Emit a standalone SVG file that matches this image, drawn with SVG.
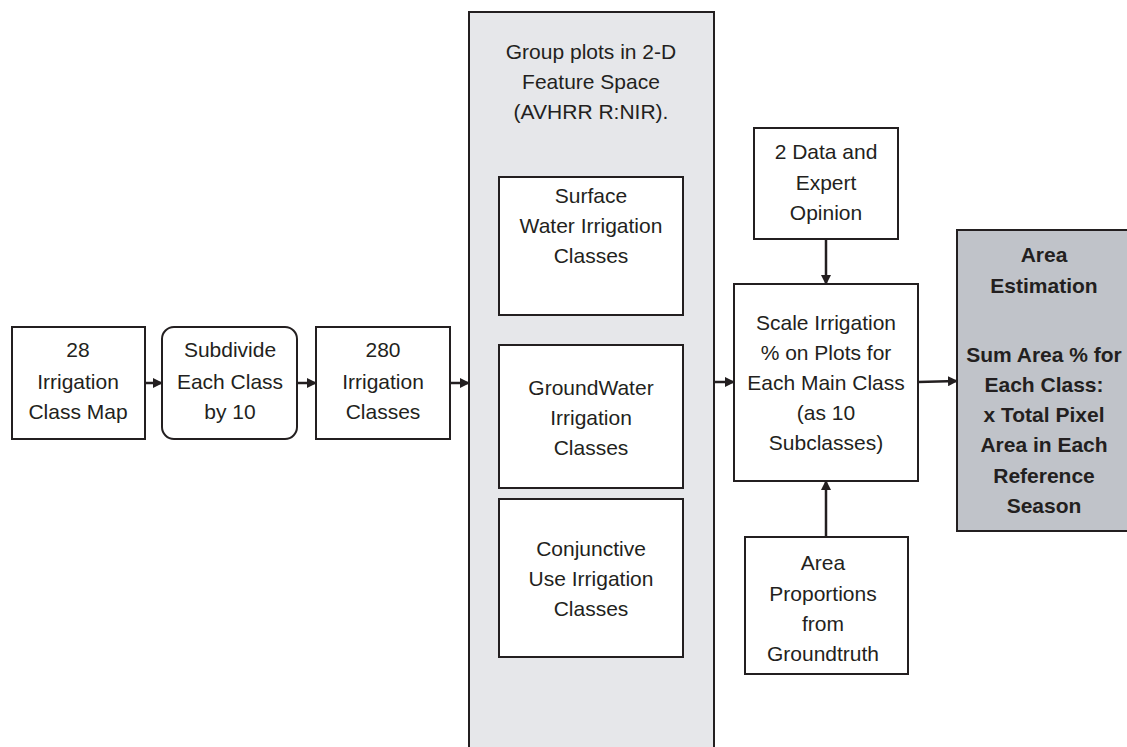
<svg xmlns="http://www.w3.org/2000/svg" width="1127" height="747" viewBox="0 0 1127 747">
<style>
.box{fill:#ffffff;stroke:#231f20;stroke-width:2}
.panel{fill:#e6e7ea;stroke:#231f20;stroke-width:2}
.dark{fill:#c0c3c9;stroke:#231f20;stroke-width:2}
text{font-family:"Liberation Sans",Arial,Helvetica,sans-serif;font-size:21px;fill:#231f20;text-anchor:middle}
.b{font-weight:bold}
.c{stroke:#231f20;stroke-width:2.5;fill:none}
</style>
<defs>
<marker id="ah" markerWidth="10" markerHeight="10" refX="9" refY="5" orient="auto" markerUnits="userSpaceOnUse">
<path d="M0,0 L10,5 L0,10 Z" fill="#231f20"/>
</marker>
</defs>
<g id="n-map">
<rect class="box" x="12" y="327" width="133" height="112"/>
<text x="78" y="357">28</text>
<text x="78" y="389">Irrigation</text>
<text x="78" y="419">Class Map</text>
</g>
<g id="n-subdivide">
<rect class="box" x="162" y="327" width="135" height="112" rx="12"/>
<text x="230" y="357">Subdivide</text>
<text x="230" y="389">Each Class</text>
<text x="230" y="419">by 10</text>
</g>
<g id="n-280">
<rect class="box" x="316" y="327" width="134" height="112"/>
<text x="383" y="357">280</text>
<text x="383" y="389">Irrigation</text>
<text x="383" y="419">Classes</text>
</g>
<g id="n-group">
<rect class="panel" x="469" y="12" width="245" height="745"/>
<text x="591" y="59">Group plots in 2-D</text>
<text x="591" y="89">Feature Space</text>
<text x="591" y="119">(AVHRR R:NIR).</text>
</g>
<g id="n-surface">
<rect class="box" x="499" y="177" width="184" height="138"/>
<text x="591" y="203">Surface</text>
<text x="591" y="233">Water Irrigation</text>
<text x="591" y="263">Classes</text>
</g>
<g id="n-ground">
<rect class="box" x="499" y="345" width="184" height="143"/>
<text x="591" y="395">GroundWater</text>
<text x="591" y="425">Irrigation</text>
<text x="591" y="455">Classes</text>
</g>
<g id="n-conj">
<rect class="box" x="499" y="499" width="184" height="158"/>
<text x="591" y="556">Conjunctive</text>
<text x="591" y="586">Use Irrigation</text>
<text x="591" y="616">Classes</text>
</g>
<g id="n-data">
<rect class="box" x="754" y="128" width="144" height="111"/>
<text x="826" y="159">2 Data and</text>
<text x="826" y="190">Expert</text>
<text x="826" y="220">Opinion</text>
</g>
<g id="n-scale">
<rect class="box" x="734" y="284" width="184" height="197"/>
<text x="826" y="330">Scale Irrigation</text>
<text x="826" y="360">% on Plots for</text>
<text x="826" y="390">Each Main Class</text>
<text x="826" y="420">(as 10</text>
<text x="826" y="450">Subclasses)</text>
</g>
<g id="n-prop">
<rect class="box" x="745" y="537" width="163" height="137"/>
<text x="823" y="570">Area</text>
<text x="823" y="601">Proportions</text>
<text x="823" y="631">from</text>
<text x="823" y="661">Groundtruth</text>
</g>
<g id="n-area">
<rect class="dark" x="957" y="230" width="180" height="301"/>
<text class="b" x="1044" y="262">Area</text>
<text class="b" x="1044" y="293">Estimation</text>
<text class="b" x="1044" y="362">Sum Area % for</text>
<text class="b" x="1044" y="392">Each Class:</text>
<text class="b" x="1044" y="422">x Total Pixel</text>
<text class="b" x="1044" y="452">Area in Each</text>
<text class="b" x="1044" y="483">Reference</text>
<text class="b" x="1044" y="513">Season</text>
</g>
<g id="connectors">
<line class="c" x1="145" y1="383" x2="162" y2="383" marker-end="url(#ah)"/>
<line class="c" x1="297" y1="383" x2="316" y2="383" marker-end="url(#ah)"/>
<line class="c" x1="450" y1="383" x2="469" y2="383" marker-end="url(#ah)"/>
<line class="c" x1="714" y1="382" x2="734" y2="382" marker-end="url(#ah)"/>
<line class="c" x1="918" y1="382" x2="957" y2="381" marker-end="url(#ah)"/>
<line class="c" x1="826" y1="239" x2="826" y2="284" marker-end="url(#ah)"/>
<line class="c" x1="826" y1="537" x2="826" y2="481" marker-end="url(#ah)"/>
</g>
</svg>
